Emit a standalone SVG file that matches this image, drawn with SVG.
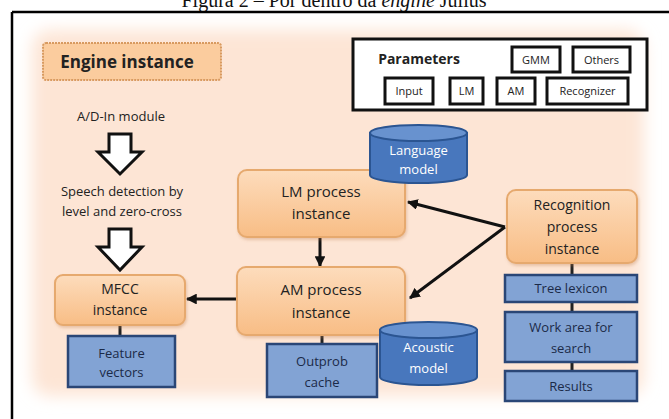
<svg xmlns="http://www.w3.org/2000/svg" width="669" height="419" viewBox="0 0 669 419">
<style>
  .t{font-family:"Open Sans","Noto Sans","Liberation Sans",sans-serif;fill:#222;text-anchor:middle}
  .orange{fill:url(#og);stroke:#e6a96e;stroke-width:2}
  .blue{fill:#82a3d4;stroke:#2a4676;stroke-width:2.5}
  .bt{font-family:"Open Sans","Noto Sans","Liberation Sans",sans-serif;fill:#1b2a48;text-anchor:middle;font-size:13px}
  .wt{font-family:"Open Sans","Noto Sans","Liberation Sans",sans-serif;fill:#ffffff;text-anchor:middle;font-size:13px}
  .pb{fill:#fff;stroke:#111;stroke-width:3}
  .pt{font-family:"Open Sans","Noto Sans","Liberation Sans",sans-serif;fill:#222;text-anchor:middle;font-size:11px}
  .cyl{fill:#4877bd;stroke:#2b5592;stroke-width:2}
  .cyltop{fill:#6892cf;stroke:#2b5592;stroke-width:2}
  .hollow{fill:#fff;stroke:#111;stroke-width:3;stroke-linejoin:miter}
  .conn{stroke:#111;stroke-width:3;fill:none}
  .stub{stroke:#222;stroke-width:3}
</style>
<defs>
  <linearGradient id="og" x1="0" y1="0" x2="0" y2="1">
    <stop offset="0" stop-color="#fddcbc"/>
    <stop offset="1" stop-color="#f8bd85"/>
  </linearGradient>
  <filter id="blur" x="-10%" y="-10%" width="120%" height="120%">
    <feGaussianBlur stdDeviation="8"/>
  </filter>
  <filter id="sh" x="-10%" y="-10%" width="125%" height="130%">
    <feDropShadow dx="1" dy="2" stdDeviation="1.5" flood-color="#c08050" flood-opacity="0.35"/>
  </filter>
  <marker id="ah" viewBox="0 0 10 10" refX="9" refY="5" markerWidth="3.6" markerHeight="3.6" orient="auto" markerUnits="strokeWidth">
    <path d="M0,0 L10,5 L0,10 Z" fill="#111"/>
  </marker>
</defs>

<rect width="669" height="419" fill="#ffffff"/>
<!-- title (cut off at the top, as in the picture) -->
<text x="334" y="7" font-family="'Liberation Serif',serif" font-size="20" fill="#111" text-anchor="middle">Figura 2 – Por dentro da <tspan font-style="italic">engine</tspan> Julius</text>

<!-- peach background -->
<rect x="32" y="30" width="612" height="366" rx="18" fill="#fde5d5" filter="url(#blur)"/>

<!-- frame -->
<path d="M12,12 H669 M12,12 V419" stroke="#000" stroke-width="2.5" fill="none"/>

<g id="engine-instance">
  <rect x="43" y="43" width="178" height="37" rx="3" fill="#fbcc9e" stroke="#d89a60" stroke-width="2" stroke-dasharray="2 1"/>
  <text x="127" y="68" class="t" font-size="17" font-weight="bold">Engine instance</text>
</g>

<g id="parameters">
  <rect x="353" y="39" width="294" height="71" class="pb"/>
  <text x="419" y="64" class="t" font-size="14" font-weight="bold">Parameters</text>
  <g id="p-gmm"><rect x="512" y="47" width="48" height="25" class="pb"/><text x="536" y="64" class="pt">GMM</text></g>
  <g id="p-others"><rect x="573" y="47" width="57" height="25" class="pb"/><text x="601.5" y="64" class="pt">Others</text></g>
  <g id="p-input"><rect x="385" y="78" width="48" height="26" class="pb"/><text x="409" y="95" class="pt">Input</text></g>
  <g id="p-lm"><rect x="450" y="78" width="33" height="26" class="pb"/><text x="466.5" y="95" class="pt">LM</text></g>
  <g id="p-am"><rect x="497" y="78" width="38" height="26" class="pb"/><text x="516" y="95" class="pt">AM</text></g>
  <g id="p-recognizer"><rect x="547" y="78" width="81" height="26" class="pb"/><text x="587.5" y="95" class="pt">Recognizer</text></g>
</g>

<g id="ad-in-module">
  <text x="121" y="121" class="t" font-size="13">A/D-In module</text>
</g>
<g id="speech-detection">
  <text x="122" y="196" class="t" font-size="13">Speech detection by</text>
  <text x="122" y="216" class="t" font-size="13">level and zero-cross</text>
</g>

<g id="connectors">
  <path class="hollow" d="M109,134 H131 V152 H142 L120,174 L98,152 H109 Z"/>
  <path class="hollow" d="M109,229 H131 V247 H142 L120,270 L98,247 H109 Z"/>
  <line class="conn" x1="320" y1="237" x2="320" y2="266" marker-end="url(#ah)"/>
  <line class="conn" x1="237" y1="299" x2="187" y2="299" marker-end="url(#ah)"/>
  <line class="conn" x1="505" y1="227" x2="408" y2="202" marker-end="url(#ah)"/>
  <line class="conn" x1="505" y1="227" x2="410" y2="298" marker-end="url(#ah)"/>
  <line class="stub" x1="120" y1="325" x2="120" y2="336"/>
  <line class="stub" x1="322" y1="335" x2="322" y2="344"/>
  <line class="stub" x1="572" y1="263" x2="572" y2="275"/>
  <line class="stub" x1="572" y1="302" x2="572" y2="312"/>
  <line class="stub" x1="572" y1="362" x2="572" y2="371"/>
</g>

<g id="lm-process">
  <rect x="238" y="170" width="167" height="67" rx="9" class="orange" filter="url(#sh)"/>
  <text x="321" y="197" class="t" font-size="15">LM process</text>
  <text x="321" y="219" class="t" font-size="15">instance</text>
</g>

<g id="am-process">
  <rect x="237" y="267" width="168" height="68" rx="9" class="orange" filter="url(#sh)"/>
  <text x="321" y="295" class="t" font-size="15">AM process</text>
  <text x="321" y="318" class="t" font-size="15">instance</text>
</g>

<g id="mfcc">
  <rect x="55" y="275" width="130" height="50" rx="8" class="orange" filter="url(#sh)"/>
  <text x="120" y="294" class="t" font-size="14">MFCC</text>
  <text x="120" y="315" class="t" font-size="14">instance</text>
</g>

<g id="feature-vectors">
  <rect x="68" y="336" width="107" height="51" class="blue"/>
  <text x="121.5" y="358" class="bt">Feature</text>
  <text x="121.5" y="377" class="bt">vectors</text>
</g>

<g id="outprob-cache">
  <rect x="267" y="344" width="110" height="53" class="blue"/>
  <text x="322" y="366" class="bt">Outprob</text>
  <text x="322" y="387" class="bt">cache</text>
</g>

<g id="language-model">
  <path class="cyl" d="M370,133 V175 A48.5,8 0 0 0 467,175 V133 Z"/>
  <ellipse class="cyltop" cx="418.5" cy="133" rx="48.5" ry="8"/>
  <text x="418.5" y="155" class="wt">Language</text>
  <text x="418.5" y="174" class="wt">model</text>
</g>

<g id="acoustic-model">
  <path class="cyl" d="M380,330 V377 A48.5,8 0 0 0 477,377 V330 Z"/>
  <ellipse class="cyltop" cx="428.5" cy="330" rx="48.5" ry="8"/>
  <text x="428.5" y="352" class="wt">Acoustic</text>
  <text x="428.5" y="373" class="wt">model</text>
</g>

<g id="recognition-process">
  <rect x="507" y="190" width="130" height="73" rx="9" class="orange" filter="url(#sh)"/>
  <text x="572" y="210" class="t" font-size="14">Recognition</text>
  <text x="572" y="232" class="t" font-size="14">process</text>
  <text x="572" y="254" class="t" font-size="14">instance</text>
</g>

<g id="tree-lexicon">
  <rect x="505" y="275" width="132" height="27" class="blue"/>
  <text x="571" y="293" class="bt">Tree lexicon</text>
</g>

<g id="work-area">
  <rect x="505" y="312" width="132" height="50" class="blue"/>
  <text x="571" y="332" class="bt">Work area for</text>
  <text x="571" y="353" class="bt">search</text>
</g>

<g id="results">
  <rect x="505" y="371" width="132" height="30" class="blue"/>
  <text x="571" y="391" class="bt">Results</text>
</g>
</svg>
